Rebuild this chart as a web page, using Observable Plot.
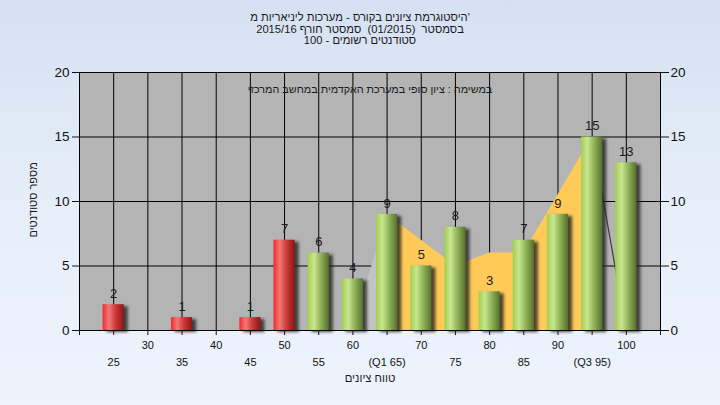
<!DOCTYPE html>
<html>
<head>
<meta charset="utf-8">
<script src="https://cdn.jsdelivr.net/npm/d3@7"></script>
<script src="https://cdn.jsdelivr.net/npm/@observablehq/plot@0.6"></script>
<style>
  html, body { margin: 0; padding: 0; }
  body {
    width: 720px; height: 405px; overflow: hidden; position: relative;
    background: linear-gradient(180deg, #d5e1f2 0%, #e6eef9 50%, #eef4fc 100%);
    font-family: "Liberation Sans", Arial, sans-serif;
  }
  #title {
    position: absolute; top: 12px; left: 0; width: 720px;
    text-align: center; font-size: 11.2px; line-height: 11.5px; color: #1a1a1a;
  }
  #chart { position: absolute; top: 0; left: 0; }
  g[aria-description="shadow"] { filter: blur(1.6px); }
</style>
</head>
<body>
<svg width="0" height="0" style="position:absolute">
  <defs>
    <linearGradient id="redGrad" x1="0" x2="1" y1="0" y2="0">
      <stop offset="0%" stop-color="#f22a2a"/>
      <stop offset="30%" stop-color="#f07878"/>
      <stop offset="60%" stop-color="#cf3a3a"/>
      <stop offset="100%" stop-color="#8a1616"/>
    </linearGradient>
    <linearGradient id="greenGrad" x1="0" x2="1" y1="0" y2="0">
      <stop offset="0%" stop-color="#a2cf4e"/>
      <stop offset="30%" stop-color="#c8e690"/>
      <stop offset="60%" stop-color="#93b55a"/>
      <stop offset="100%" stop-color="#56702c"/>
    </linearGradient>
  </defs>
</svg>
<div id="title">
  <div dir="rtl">'היסטוגרמת ציונים בקורס - מערכות ליניאריות מ</div>
  <div dir="rtl">בסמסטר&nbsp; (01/2015)&nbsp; סמסטר חורף 2015/16</div>
  <div dir="rtl">סטודנטים רשומים - 100</div>
</div>
<div id="chart"></div>
<script>
// ---- data ----
const grades = [25, 30, 35, 40, 45, 50, 55, 60, 65, 70, 75, 80, 85, 90, 95, 100];
const counts = [2, 0, 1, 0, 1, 7, 6, 4, 9, 5, 8, 3, 7, 9, 15, 13];
const tickLabels = ["25", "30", "35", "40", "45", "50", "55", "60", "(Q1 65)", "70", "75", "80", "85", "90", "(Q3 95)", "100"];
const areaGrades = [60, 65, 70, 75, 80, 85, 90, 95, 100];
const areaValues = [0, 9, 7, 5, 6, 6, 10.5, 15, 0];
const yTicks = [0, 5, 10, 15, 20];
const xTicks = [20, 25, 30, 35, 40, 45, 50, 55, 60, 65, 70, 75, 80, 85, 90, 95, 100, 105];
const upperRow = [30, 40, 50, 60, 70, 80, 90, 100];
const lowerRow = [25, 35, 45, 55, 65, 75, 85, 95];
const passGrade = 55;
const subtitle = "במשימה : ציון סופי במערכת האקדמית במחשב המרכזי";
const xTitle = "טווח ציונים";
const yTitle = "מספר סטודנטים";

const bars = grades.map((g, i) => ({grade: g, count: counts[i]})).filter(d => d.count > 0);
const area = areaGrades.map((g, i) => ({grade: g, value: areaValues[i]}));
const halfW = 1.55;
const labelOf = g => tickLabels[grades.indexOf(g)] ?? "";

const chart = Plot.plot({
  width: 720, height: 405,
  marginLeft: 79, marginRight: 60, marginTop: 72, marginBottom: 75,
  x: {domain: [20, 105], axis: null},
  y: {domain: [0, 20], axis: null},
  style: {background: "transparent", fontFamily: "'Liberation Sans', Arial, sans-serif", color: "#1a1a1a", overflow: "visible"},
  marks: [
    Plot.frame({fill: "#b4b4b4", stroke: "none"}),
    Plot.ruleX(grades, {stroke: "#000", strokeWidth: 1}),
    Plot.ruleY(yTicks, {stroke: "#000", strokeWidth: 1}),
    Plot.areaY(area.filter(d => d.grade <= 65), {x: "grade", y: "value", fill: "#c3c3c3"}),
    Plot.areaY(area.filter(d => d.grade >= 65 && d.grade <= 95), {x: "grade", y: "value", fill: "#ffca58"}),
    Plot.line(area.filter(d => d.grade >= 95), {x: "grade", y: "value", stroke: "#3a3a3a", strokeWidth: 1.2}),
    Plot.rectY(bars, {x1: d => d.grade - halfW, x2: d => d.grade + halfW, y: "count", fill: "#222", fillOpacity: 0.8, dx: 4, dy: 2, ariaDescription: "shadow"}),
    Plot.rectY(bars.filter(d => d.grade < passGrade), {x1: d => d.grade - halfW, x2: d => d.grade + halfW, y: "count", fill: "url(#redGrad)"}),
    Plot.rectY(bars.filter(d => d.grade >= passGrade), {x1: d => d.grade - halfW, x2: d => d.grade + halfW, y: "count", fill: "url(#greenGrad)"}),
    Plot.ruleX([20, 105], {stroke: "#000"}),
    Plot.ruleY([0], {x1: 19, x2: 106.2, stroke: "#000"}),
    Plot.axisY(yTicks, {anchor: "left", tickSize: 7, tickPadding: 3, fontSize: 13.5, label: null, color: "#111"}),
    Plot.axisY(yTicks, {anchor: "right", tickSize: 8, tickPadding: 2, fontSize: 13.5, label: null, color: "#111"}),
    Plot.axisX(xTicks, {anchor: "bottom", tickSize: 5, tickFormat: () => "", label: null, color: "#111"}),
    Plot.axisX(upperRow, {anchor: "bottom", tickSize: 0, tickPadding: 11, tickFormat: labelOf, fontSize: 11, label: null, color: "#111"}),
    Plot.axisX(lowerRow, {anchor: "bottom", tickSize: 0, tickPadding: 28, tickFormat: labelOf, fontSize: 11, label: null, color: "#111"}),
    Plot.text(bars, {x: "grade", y: "count", text: d => String(d.count), dy: -11, fontSize: 13, fill: "#1a1a1a"}),
    Plot.text([subtitle], {frameAnchor: "top", dy: 13, fontSize: 10.8, fill: "#1a1a1a"}),
    Plot.text([xTitle], {frameAnchor: "bottom", dy: 51, fontSize: 11.3, fill: "#1a1a1a"}),
    Plot.text([yTitle], {frameAnchor: "left", dx: -46, dy: 36, rotate: -90, fontSize: 11, fill: "#1a1a1a"})
  ]
});
document.getElementById("chart").appendChild(chart);
</script>
</body>
</html>
